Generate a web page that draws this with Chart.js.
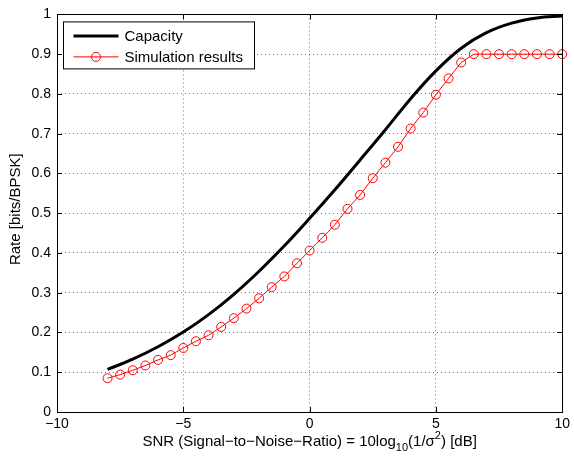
<!DOCTYPE html>
<html>
<head>
<meta charset="utf-8">
<script src="https://cdn.jsdelivr.net/npm/chart.js@4/dist/chart.umd.min.js"></script>
<style>
  html, body { margin: 0; padding: 0; background: #fff; }
  #wrap { width: 574px; height: 463px; position: relative; }
</style>
</head>
<body>
<div id="wrap"><canvas id="chart"></canvas></div>
<script>
// Capacity curve (1 dB steps)
const snrCap = [-8, -7, -6, -5, -4, -3, -2, -1, 0, 1, 2, 3, 4, 5, 6, 7, 8, 9, 10];
const capRate = [0.107, 0.133, 0.164, 0.201, 0.245, 0.296, 0.354, 0.418, 0.487, 0.559, 0.634, 0.71, 0.788, 0.858, 0.915, 0.954, 0.978, 0.991, 0.996];

// Simulation results (0.5 dB steps)
const snrSim = [-8, -7.5, -7, -6.5, -6, -5.5, -5, -4.5, -4, -3.5, -3, -2.5, -2, -1.5, -1, -0.5,
  0, 0.5, 1, 1.5, 2, 2.5, 3, 3.5, 4, 4.5, 5, 5.5, 6, 6.5, 7, 7.5, 8, 8.5, 9, 9.5, 10];
const simRate = [0.085, 0.094, 0.105, 0.117, 0.131, 0.143, 0.161, 0.178, 0.193, 0.214, 0.236, 0.26,
  0.286, 0.314, 0.341, 0.374, 0.406, 0.438, 0.471, 0.511, 0.546, 0.588, 0.627, 0.667, 0.713,
  0.753, 0.798, 0.839, 0.879, 0.9, 0.9, 0.9, 0.9, 0.9, 0.9, 0.9, 0.9];

const xTicks = [-10, -5, 0, 5, 10];
const yTicks = [0, 0.1, 0.2, 0.3, 0.4, 0.5, 0.6, 0.7, 0.8, 0.9, 1];

const legendNames = ['Capacity', 'Simulation results'];
const yTitle = 'Rate [bits/BPSK]';

const FONT = '"Liberation Sans", Arial, Helvetica, sans-serif';
const TXT = 15;   // legend and axis titles
const TICK = 14;  // tick labels
const toPts = (xs, ys) => xs.map((x, i) => ({ x: x, y: ys[i] }));
const minus = s => String(s).replace('-', '\u2212');

// box, inward ticks, legend and axis titles, drawn the Matlab way
const matlabAxes = {
  id: 'matlabAxes',
  afterDatasetsDraw(chart) {
    const ctx = chart.ctx;
    const a = chart.chartArea;
    const xs = chart.scales.x, ys = chart.scales.y;
    ctx.save();
    ctx.strokeStyle = '#000';
    ctx.lineWidth = 1;

    // ticks pointing in
    ctx.beginPath();
    xTicks.forEach(v => {
      const px = Math.round(xs.getPixelForValue(v)) + 0.5;
      ctx.moveTo(px, a.bottom); ctx.lineTo(px, a.bottom - 5);
      ctx.moveTo(px, a.top); ctx.lineTo(px, a.top + 5);
    });
    yTicks.forEach(v => {
      const py = Math.round(ys.getPixelForValue(v)) + 0.5;
      ctx.moveTo(a.left, py); ctx.lineTo(a.left + 5, py);
      ctx.moveTo(a.right, py); ctx.lineTo(a.right - 5, py);
    });
    ctx.stroke();

    // box
    ctx.strokeRect(Math.round(a.left) + 0.5, Math.round(a.top) + 0.5,
      Math.round(a.right - a.left), Math.round(a.bottom - a.top));

    // legend
    const lx = a.left + 6.5, ly = a.top + 7.5, lw = 191, lh = 47;
    ctx.fillStyle = '#fff';
    ctx.fillRect(lx, ly, lw, lh);
    ctx.strokeRect(lx, ly, lw, lh);
    ctx.font = TXT + 'px ' + FONT;
    ctx.textBaseline = 'middle';
    ctx.textAlign = 'left';
    const row1 = ly + 14, row2 = ly + 35;
    ctx.lineWidth = 3;
    ctx.beginPath(); ctx.moveTo(lx + 10, row1); ctx.lineTo(lx + 55, row1); ctx.stroke();
    ctx.strokeStyle = '#ff0000';
    ctx.lineWidth = 1;
    ctx.beginPath(); ctx.moveTo(lx + 10, row2); ctx.lineTo(lx + 55, row2); ctx.stroke();
    ctx.beginPath(); ctx.arc(lx + 32.5, row2, 4.5, 0, Math.PI * 2); ctx.stroke();
    ctx.fillStyle = '#000';
    ctx.fillText(legendNames[0], lx + 61, row1 + 1);
    ctx.fillText(legendNames[1], lx + 61, row2 + 1);

    // x title with subscript and superscript
    const parts = [
      { t: 'SNR (Signal\u2212to\u2212Noise\u2212Ratio) = 10log', s: TXT, dy: 0 },
      { t: '10', s: 11, dy: 5 },
      { t: '(1/\u03c3', s: TXT, dy: 0 },
      { t: '2', s: 11, dy: -7 },
      { t: ') [dB]', s: TXT, dy: 0 }
    ];
    let total = 0;
    parts.forEach(p => { ctx.font = p.s + 'px ' + FONT; p.w = ctx.measureText(p.t).width; total += p.w; });
    let x = (a.left + a.right) / 2 - total / 2;
    const base = 446;
    ctx.textBaseline = 'alphabetic';
    parts.forEach(p => {
      ctx.font = p.s + 'px ' + FONT;
      ctx.fillText(p.t, x, base + p.dy);
      x += p.w;
    });

    // y title
    ctx.font = TXT + 'px ' + FONT;
    ctx.translate(16, (a.top + a.bottom) / 2 - 4);
    ctx.rotate(-Math.PI / 2);
    ctx.textAlign = 'center';
    ctx.textBaseline = 'middle';
    ctx.fillText(yTitle, 0, 0);
    ctx.restore();
  }
};

const gridOpts = {
  color: 'rgba(0,0,0,0.55)',
  drawTicks: false,
  lineWidth: 1
};

new Chart(document.getElementById('chart'), {
  type: 'line',
  data: {
    datasets: [
      {
        label: legendNames[0],
        data: toPts(snrCap, capRate),
        borderColor: '#000',
        borderWidth: 3,
        pointRadius: 0,
        tension: 0.4,
        fill: false,
        clip: false
      },
      {
        label: legendNames[1],
        data: toPts(snrSim, simRate),
        borderColor: '#ff0000',
        borderWidth: 1,
        pointRadius: 4.5,
        pointBorderWidth: 1,
        pointBorderColor: '#ff0000',
        pointBackgroundColor: 'rgba(0,0,0,0)',
        tension: 0,
        fill: false,
        clip: false
      }
    ]
  },
  options: {
    responsive: true,
    maintainAspectRatio: false,
    animation: false,
    events: [],
    layout: { padding: { left: 0, right: 11, top: 12, bottom: 0 } },
    plugins: { legend: { display: false }, tooltip: { enabled: false } },
    scales: {
      x: {
        type: 'linear',
        min: -10, max: 10,
        afterFit: s => { s.height = 51; },
        afterBuildTicks: s => { s.ticks = xTicks.map(v => ({ value: v })); },
        ticks: {
          color: '#000',
          font: { family: FONT, size: TICK },
          padding: 4,
          maxRotation: 0,
          callback: v => minus(v)
        },
        grid: gridOpts,
        border: { display: false, dash: [1, 3] }
      },
      y: {
        type: 'linear',
        min: 0, max: 1,
        afterFit: s => { s.width = 57; },
        afterBuildTicks: s => { s.ticks = yTicks.map(v => ({ value: v })); },
        ticks: {
          color: '#000',
          font: { family: FONT, size: TICK },
          padding: 6,
          callback: v => String(Number(v.toFixed(1)))
        },
        grid: gridOpts,
        border: { display: false, dash: [1, 3] }
      }
    }
  },
  plugins: [matlabAxes]
});
</script>
</body>
</html>
